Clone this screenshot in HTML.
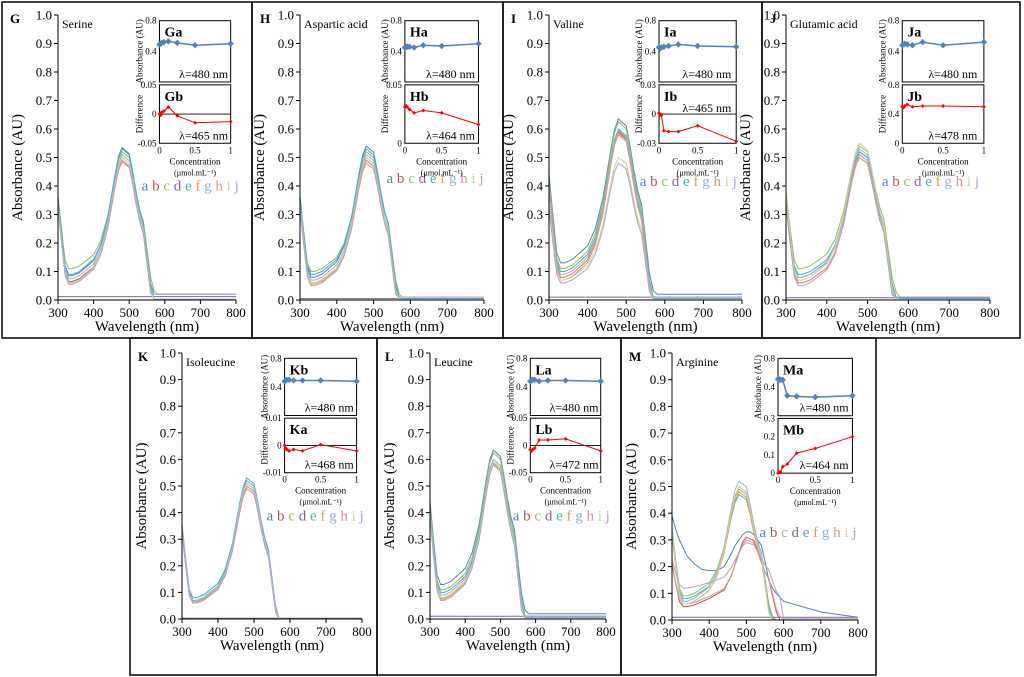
<!DOCTYPE html>
<html><head><meta charset="utf-8"><style>
html,body{margin:0;padding:0;background:#fff;width:1024px;height:677px;overflow:hidden}
svg{display:block;font-family:"Liberation Serif",serif}
svg text{font-family:"Liberation Serif",serif}
</style></head><body>
<svg id="fig" width="1024" height="677" viewBox="0 0 1024 677" xmlns="http://www.w3.org/2000/svg"></svg>
<script>
// shared data
const wavelengths=[300,310,320,330,340,360,380,400,420,440,460,470,480,490,500,510,520,530,540,550,560,570,580,600,700,800];
const template=[0.37,0.25,0.14,0.11,0.11,0.12,0.14,0.16,0.21,0.30,0.44,0.50,0.53,0.52,0.51,0.45,0.38,0.32,0.28,0.18,0.08,0.03,0.025,0.022,0.02,0.02];
const conc=[0,0.0156,0.031,0.0625,0.125,0.25,0.5,1];
const xTicks=[300,400,500,600,700,800];
const yTicks=[0,0.1,0.2,0.3,0.4,0.5,0.6,0.7,0.8,0.9,1.0];
const letters=['a','b','c','d','e','f','g','h','i','j'];
const colors=['#4f81bd','#c0504d','#9bbb59','#8064a2','#4bacc6','#f79646','#95b3d7','#d99694','#c3d69b','#b3a2c7'];
// per-panel spectra
const G_peak=[0.535,0.49,0.52,0,0.53,0.485,0.51,0.5,0.5,0.49];
const G_min=[0.085,0.065,0.11,0.012,0.09,0.06,0.075,0.06,0.06,0.055];
const G_tail=[0,0,0.02,0.012,0.02,0,0.003,0,0,0.02];
const H_peak=[0.54,0.49,0.52,0,0.53,0.48,0.51,0.5,0.5,0.49];
const H_min=[0.08,0.06,0.1,0.005,0.09,0.055,0.07,0.06,0.06,0.05];
const H_tail=[0,0,0.01,0.005,0.005,0,0,0,0,0.01];
const I_peak=[0.635,0.59,0.625,0,0.6,0.585,0.595,0.58,0.5,0.48];
const I_min=[0.13,0.08,0.11,0.01,0.1,0.07,0.09,0.08,0.07,0.06];
const I_tail=[0.02,0,0.01,0.01,0.005,0,0,0,0,0.01];
const J_peak=[0.52,0.5,0.54,0,0.52,0.5,0.53,0.51,0.55,0.51];
const J_min=[0.08,0.06,0.11,0.008,0.09,0.06,0.08,0.06,0.07,0.05];
const J_tail=[0.01,0,0.01,0.008,0.005,0,0,0,0,0.01];
const K_peak=[0.52,0.5,0.51,0,0.53,0.5,0.52,0.49,0.51,0.5];
const K_min=[0.07,0.06,0.065,0.003,0.08,0.06,0.07,0.06,0.06,0.06];
const K_tail=[0,0,0,0.003,0,0,0,0,0,0];
const L_peak=[0.635,0.59,0.625,0,0.6,0.585,0.6,0.58,0.59,0.58];
const L_min=[0.13,0.08,0.11,0.01,0.1,0.075,0.09,0.08,0.08,0.07];
const L_tail=[0.02,0,0.01,0.01,0.005,0,0,0,0,0.01];
const M_peak=[0,0.31,0.49,0,0.47,0.48,0.52,0.3,0.5,0.29];
const M_min=[0,0.05,0.09,0.01,0.08,0.06,0.07,0.06,0.06,0.12];
const M_tail=[0,0,0,0.01,0,0,0,0,0,0.005];
const M_shift=[0,20,0,0,0,0,0,20,0,20];
const M_a_values=[0.39,0.34,0.30,0.27,0.24,0.21,0.19,0.185,0.185,0.2,0.25,0.28,0.3,0.32,0.33,0.33,0.32,0.3,0.28,0.22,0.15,0.12,0.1,0.07,0.03,0.01];
// insets
const Ga=[0.49,0.5,0.51,0.52,0.53,0.51,0.48,0.5], Gb=[0,-0.002,0.003,0.005,0.012,-0.003,-0.015,-0.013];
const Ha=[0.45,0.46,0.46,0.46,0.45,0.48,0.47,0.5], Hb=[0.031,0.032,0.031,0.029,0.026,0.028,0.026,0.016];
const Ia=[0.45,0.44,0.45,0.46,0.47,0.49,0.47,0.46], Ib=[0.001,-0.001,-0.001,-0.017,-0.018,-0.018,-0.012,-0.028];
const Ja=[0.48,0.49,0.5,0.49,0.48,0.52,0.48,0.52], Jb=[0.5,0.49,0.51,0.53,0.5,0.51,0.51,0.5];
const Kb=[0.48,0.49,0.5,0.5,0.49,0.49,0.49,0.48], Ka=[0,-0.001,-0.0015,-0.002,-0.0015,-0.002,0.0003,-0.002];
const La=[0.48,0.49,0.5,0.5,0.48,0.49,0.49,0.48], Lb=[-0.008,-0.01,-0.008,-0.005,0.01,0.01,0.012,-0.01];
const Ma=[0.51,0.51,0.5,0.5,0.28,0.27,0.26,0.28], Mb=[0,0.005,0.005,0.035,0.05,0.11,0.135,0.2];

const panels=[
 {id:'G',name:'Serine',box:[2,2,250,336],x0:58,x1:236,yT:15,yB:300,peak:G_peak,min:G_min,tail:G_tail,leg:0.385,
  ins:[{lab:'Ga',v:Ga,r:[0,0.8],t:[0.4,0.8],wl:'480',c:'#4f81bd',title:'Absorbance (AU)'},{lab:'Gb',v:Gb,r:[-0.05,0.05],t:[-0.05,0,0.05],wl:'465',c:'#ff0000',title:'Difference'}]},
 {id:'H',name:'Aspartic acid',box:[252,2,251,336],x0:300,x1:484,yT:15,yB:300,peak:H_peak,min:H_min,tail:H_tail,leg:0.41,
  ins:[{lab:'Ha',v:Ha,r:[0,0.8],t:[0.4,0.8],wl:'480',c:'#4f81bd',title:'Absorbance (AU)'},{lab:'Hb',v:Hb,r:[0,0.05],t:[0,0.05],wl:'464',c:'#ff0000',title:'Difference'}]},
 {id:'I',name:'Valine',box:[503,2,259,336],x0:549,x1:742,yT:15,yB:300,peak:I_peak,min:I_min,tail:I_tail,leg:0.40,
  ins:[{lab:'Ia',v:Ia,r:[0,0.8],t:[0.4,0.8],wl:'480',c:'#4f81bd',title:'Absorbance (AU)'},{lab:'Ib',v:Ib,r:[-0.03,0.03],t:[-0.03,0,0.03],wl:'465',c:'#ff0000',title:'Difference',wlTop:true}]},
 {id:'J',name:'Glutamic acid',box:[762,2,258,336],x0:786,x1:990,yT:15,yB:300,peak:J_peak,min:J_min,tail:J_tail,leg:0.40,
  ins:[{lab:'Ja',v:Ja,r:[0,0.8],t:[0.4,0.8],wl:'480',c:'#4f81bd',title:'Absorbance (AU)'},{lab:'Jb',v:Jb,r:[0,0.8],t:[0,0.4,0.8],wl:'478',c:'#ff0000',title:'Difference'}]},
 {id:'K',name:'Isoleucine',box:[130,338,247,337],x0:182,x1:362,yT:353,yB:619,peak:K_peak,min:K_min,tail:K_tail,leg:0.37,
  ins:[{lab:'Kb',v:Kb,r:[0,0.8],t:[0.4,0.8],wl:'480',c:'#4f81bd',title:'Absorbance (AU)'},{lab:'Ka',v:Ka,r:[-0.01,0.01],t:[-0.01,0,0.01],wl:'468',c:'#ff0000',title:'Difference'}]},
 {id:'L',name:'Leucine',box:[377,338,244,337],x0:430,x1:606,yT:353,yB:619,peak:L_peak,min:L_min,tail:L_tail,leg:0.37,
  ins:[{lab:'La',v:La,r:[0,0.8],t:[0.4,0.8],wl:'480',c:'#4f81bd',title:'Absorbance (AU)'},{lab:'Lb',v:Lb,r:[-0.05,0.05],t:[-0.05,0,0.05],wl:'472',c:'#ff0000',title:'Difference'}]},
 {id:'M',name:'Arginine',box:[621,338,255,337],x0:672,x1:858,yT:353,yB:620,peak:M_peak,min:M_min,tail:M_tail,shift:M_shift,special:M_a_values,leg:0.31,
  ins:[{lab:'Ma',v:Ma,r:[0,0.8],t:[0.4,0.8],wl:'480',c:'#4f81bd',title:'Absorbance (AU)'},{lab:'Mb',v:Mb,r:[0,0.3],t:[0,0.1,0.2,0.3],wl:'464',c:'#ff0000',title:''}]}
];
const NS='http://www.w3.org/2000/svg';
const svg=document.getElementById('fig');
function mk(tag,attrs,parent,text){const e=document.createElementNS(NS,tag);for(const k in attrs)e.setAttribute(k,attrs[k]);if(tag==='text')e.setAttribute('font-family','Liberation Serif, serif');if(text!==undefined)e.textContent=text;(parent||svg).appendChild(e);return e;}

panels.forEach(p=>{
  const g=mk('g',{});
  
  
  const b=p.box;
  const frame=mk('rect',{x:b[0],y:b[1],width:b[2],height:b[3],fill:'none',stroke:'#000','stroke-width':1.5},g);
  
  
  const sx=w=>p.x0+(w-300)/500*(p.x1-p.x0);
  const sy=v=>p.yB-v*(p.yB-p.yT);
  const W=p.x1-p.x0;
  const clipId='clip'+p.id;
  const cp=mk('clipPath',{id:clipId},g);mk('rect',{x:p.x0,y:p.yT-2,width:W,height:p.yB-p.yT+2},cp);
  const cg=mk('g',{'clip-path':'url(#'+clipId+')'},g);
  for(let k=0;k<10;k++){
    let vals;
    if(k===0&&p.special){vals=p.special.slice();}
    else if(p.peak[k]===0){vals=wavelengths.map(()=>p.min[k]);}
    else{const s=(p.peak[k]-p.min[k])/0.42;
      vals=template.map((t,i)=>{const v=p.min[k]+(t-0.11)*s;return wavelengths[i]>=580?p.tail[k]:Math.max(p.tail[k],v);});}
    const sh=p.shift?p.shift[k]:0;
    const d=wavelengths.map((w,i)=>(i?'L':'M')+sx(w+(w>=420&&w<600?sh:0)).toFixed(1)+' '+sy(vals[i]).toFixed(1)).join(' ');
    const path=mk('path',{d:d,fill:'none',stroke:colors[k],'stroke-width':1},cg);
    
    
  }
  const ax=mk('path',{d:`M${p.x0} ${p.yT} L${p.x0} ${p.yB} L${p.x1} ${p.yB}`,fill:'none',stroke:'#000','stroke-width':1},g);
  
  
  yTicks.forEach(v=>{
    mk('line',{x1:p.x0-4,x2:p.x0,y1:sy(v),y2:sy(v),stroke:'#000'},g);
    const t=mk('text',{x:p.x0-6,y:sy(v)+4.5,'text-anchor':'end','font-size':13},g,v.toFixed(1));
    
    
  });
  xTicks.forEach(v=>{
    mk('line',{x1:sx(v),x2:sx(v),y1:p.yB,y2:p.yB+4,stroke:'#000'},g);
    const t=mk('text',{x:sx(v),y:p.yB+17,'text-anchor':'middle','font-size':13},g,String(v));
    
    
  });
  const xt=mk('text',{x:p.x0+W/2,y:p.yB+31,'text-anchor':'middle','font-size':15},g,'Wavelength  (nm)');
  
  
  const ym=(p.yT+p.yB)/2+10;
  const yt=mk('text',{x:p.x0-36,y:ym,'text-anchor':'middle','font-size':15,transform:`rotate(-90 ${p.x0-36} ${ym})`},g,'Absorbance (AU)');
  
  
  const pl=mk('text',{x:b[0]+8,y:p.yT+8,'font-size':13,'font-weight':'bold'},g,p.id);
  
  
  const nm=mk('text',{x:p.x0+4,y:p.yT+13,'font-size':12},g,p.name);
  
  
  const lg=mk('text',{x:p.x0+0.47*W,y:sy(p.leg),'font-size':15},g);
  
  
  letters.forEach((l,k)=>{const ts=mk('tspan',{fill:colors[k]},lg,l+(k<9?' ':''));
    
    });
  const il=p.x0+0.57*W, ir=p.x0+0.97*W;
  const bands=[[0.98,0.765],[0.755,0.55]];
  p.ins.forEach((ins,j)=>{
    const top=sy(bands[j][0]), bot=sy(bands[j][1]);
    const ig=mk('g',{},g);
    
    
    mk('rect',{x:il,y:top,width:ir-il,height:bot-top,fill:'#fff',stroke:'#000','stroke-width':1},ig);
    const ix=c=>il+c*(ir-il);
    const iy=v=>bot-(v-ins.r[0])/(ins.r[1]-ins.r[0])*(bot-top);
    if(ins.r[0]<0)mk('line',{x1:il,x2:ir,y1:iy(0),y2:iy(0),stroke:'#000','stroke-width':0.8},ig);
    ins.t.forEach(v=>{const t=mk('text',{x:il-3,y:iy(v)+3,'text-anchor':'end','font-size':9},ig,String(v));
      
      });
    const d=conc.map((c,i)=>(i?'L':'M')+ix(c).toFixed(1)+' '+iy(ins.v[i]).toFixed(1)).join(' ');
    const ln=mk('path',{d:d,fill:'none',stroke:ins.c,'stroke-width':j?1:1.5},ig);
    
    
    conc.forEach((c,i)=>{
      const r=j?2:3.2;const cx=ix(c),cy=iy(ins.v[i]);
      const m=mk('path',{d:`M${cx} ${cy-r} L${cx+r} ${cy} L${cx} ${cy+r} L${cx-r} ${cy} Z`,fill:ins.c},ig);
      
      
    });
    const lb=mk('text',{x:il+5,y:top+16,'font-size':14,'font-weight':'bold'},ig,ins.lab);
    
    
    const wy=ins.wlTop?top+27:bot-4;
    const wt=mk('text',{x:il+0.62*(ir-il),y:wy,'text-anchor':'middle','font-size':12},ig,'λ='+ins.wl+' nm');
    
    
    if(ins.title){const tx=il-17,tyy=(top+bot)/2;
      const tt=mk('text',{x:tx,y:tyy,'text-anchor':'middle','font-size':9,transform:`rotate(-90 ${tx} ${tyy})`},ig,ins.title);
      
      }
    if(j===1){
      [0,0.5,1].forEach(c=>{const t=mk('text',{x:ix(c),y:bot+10,'text-anchor':'middle','font-size':9},ig,String(c));
        
        });
      const c1=mk('text',{x:(il+ir)/2,y:bot+21,'text-anchor':'middle','font-size':9},ig,'Concentration');
      
      
      const c2=mk('text',{x:(il+ir)/2,y:bot+32,'text-anchor':'middle','font-size':8},ig,'(µmol.mL⁻¹)');
      
      
    }
  });
});
</script>
</body></html>
